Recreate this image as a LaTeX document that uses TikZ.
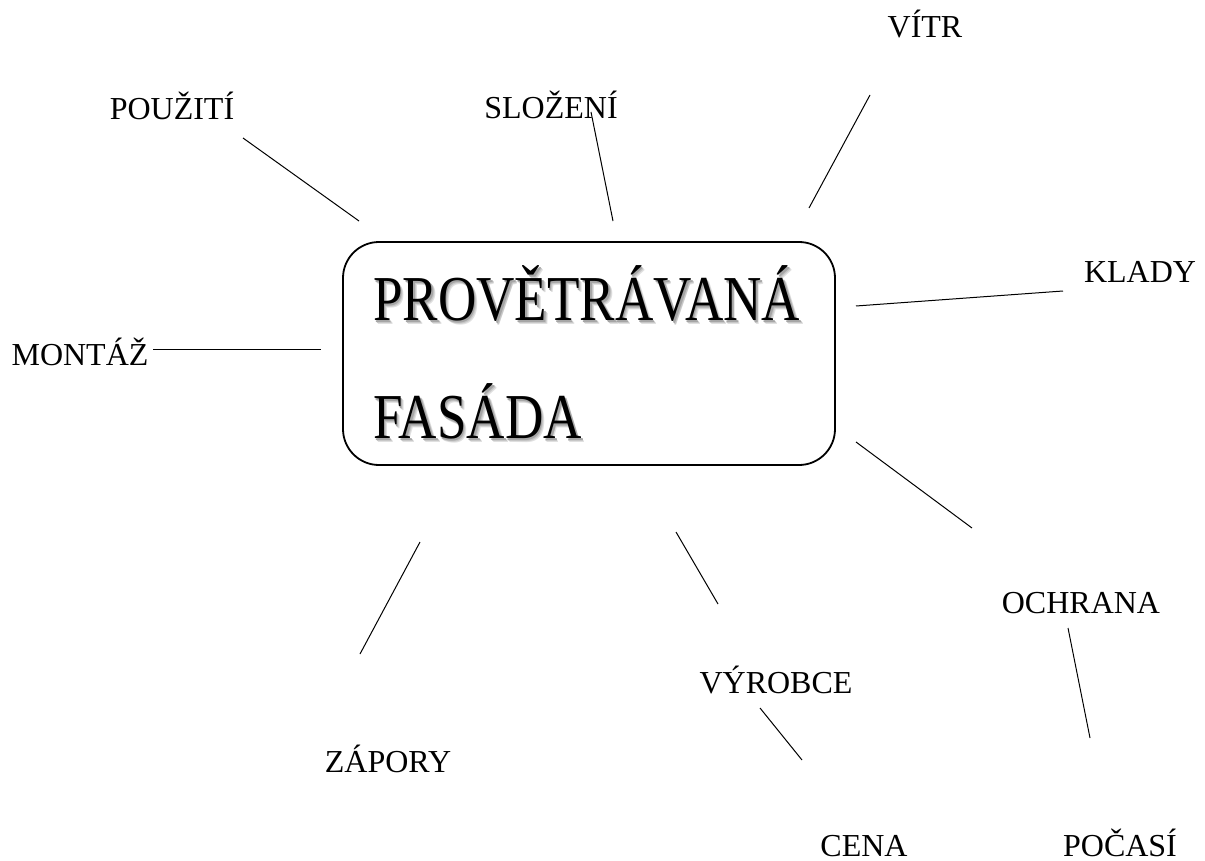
\documentclass[tikz,border=0pt]{standalone}
\usepackage{fontspec}
\setmainfont{Liberation Serif}
\newcommand{\shadowtext}[1]{%
  \makebox[0pt][l]{\hspace{4pt}\raisebox{-4pt}{\color{black!12}#1}}%
  \makebox[0pt][l]{\hspace{3pt}\raisebox{-3pt}{\color{black!22}#1}}%
  \makebox[0pt][l]{\hspace{2pt}\raisebox{-2pt}{\color{black!35}#1}}%
  #1}
\begin{document}
\begin{tikzpicture}[x=1pt,y=-1pt,
  lbl/.style={anchor=base,inner sep=0pt,font=\fontsize{32}{36}\selectfont},
  big/.style={anchor=base west,inner sep=0pt,font=\fontsize{64}{70}\selectfont},
  conn/.style={line width=1pt,black}]
\useasboundingbox (0,0) rectangle (1205,861);
\node[draw,line width=1.8pt,rounded corners=36pt,minimum width=492pt,minimum height=223pt,inner sep=0pt] (box) at (589,353.5) {};
\node[big] (t1) at (373,320) {\scalebox{0.83}[1]{\shadowtext{PROVĚTRÁVANÁ}}};
\node[big] (t2) at (373,438) {\scalebox{0.83}[1]{\shadowtext{FASÁDA}}};
% labels
\node[lbl] (vitr) at (925,38) {VÍTR};
\node[lbl] (pouziti) at (172,120) {POUŽITÍ};
\node[lbl] (slozeni) at (551,119) {SLOŽENÍ};
\node[lbl] (klady) at (1140,283) {KLADY};
\node[lbl] (montaz) at (80,365) {MONTÁŽ};
\node[lbl] (ochrana) at (1081,613) {OCHRANA};
\node[lbl] (vyrobce) at (776,693) {VÝROBCE};
\node[lbl] (zapory) at (388,772) {ZÁPORY};
\node[lbl] (cena) at (864,856) {CENA};
\node[lbl] (pocasi) at (1120,856) {POČASÍ};
% line ends
\coordinate (a1) at (243,138); \coordinate (a2) at (359,221);
\coordinate (b1) at (591,112); \coordinate (b2) at (613,221);
\coordinate (c1) at (870,95);  \coordinate (c2) at (809,208);
\coordinate (d1) at (856,306); \coordinate (d2) at (1063,291);
\coordinate (e1) at (153,349); \coordinate (e2) at (321,349);
\coordinate (f1) at (856,442); \coordinate (f2) at (972,528);
\coordinate (g1) at (420,542); \coordinate (g2) at (360,654);
\coordinate (h1) at (676,532); \coordinate (h2) at (718,604);
\coordinate (i1) at (760,708); \coordinate (i2) at (802,760);
\coordinate (j1) at (1068,628); \coordinate (j2) at (1090,738);
\draw[conn] (a1) -- (a2);
\draw[conn] (b1) -- (b2);
\draw[conn] (c1) -- (c2);
\draw[conn] (d1) -- (d2);
\draw[conn] (e1) -- (e2);
\draw[conn] (f1) -- (f2);
\draw[conn] (g1) -- (g2);
\draw[conn] (h1) -- (h2);
\draw[conn] (i1) -- (i2);
\draw[conn] (j1) -- (j2);
\end{tikzpicture}
\end{document}
